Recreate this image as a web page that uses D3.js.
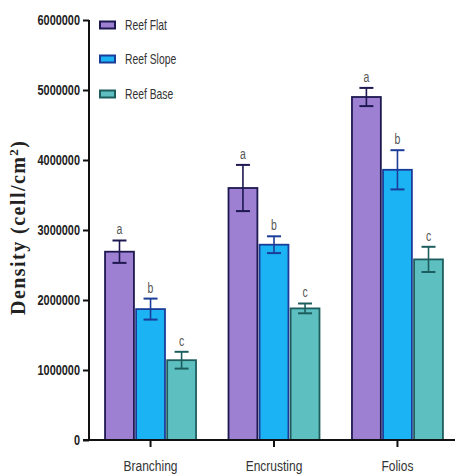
<!DOCTYPE html>
<html>
<head>
<meta charset="utf-8">
<script src="https://cdn.jsdelivr.net/npm/d3@7"></script>
<style>
  html, body { margin: 0; padding: 0; background: #fff; }
  svg { display: block; }
  .sans { font-family: "Liberation Sans", Arial, sans-serif; }
</style>
</head>
<body>
<svg id="chart" width="455" height="475"></svg>
<script>
// Coral growth forms and reef zones
const categories = ["Branching", "Encrusting", "Folios"];
const zones = ["Reef Flat", "Reef Slope", "Reef Base"];

// Mean density (cell/cm²) per zone, one array per zone in category order
const reefFlat  = [2690000, 3600000, 4900000];
const reefSlope = [1870000, 2790000, 3860000];
const reefBase  = [1140000, 1880000, 2580000];

// Error (± SEM) per zone
const reefFlatErr  = [160000, 330000, 130000];
const reefSlopeErr = [150000, 120000, 280000];
const reefBaseErr  = [120000, 70000, 180000];

// Significance letters
const reefFlatSig  = ["a", "a", "a"];
const reefSlopeSig = ["b", "b", "b"];
const reefBaseSig  = ["c", "c", "c"];

const yTicks = [0, 1000000, 2000000, 3000000, 4000000, 5000000, 6000000];

const fills   = ["#9e80d2", "#1bb3f3", "#5dbfc0"];
const strokes = ["#1d1850", "#1b3c98", "#1e5d5e"];

const series = zones.map((z, i) => ({
  zone: z,
  values: [reefFlat, reefSlope, reefBase][i],
  errs: [reefFlatErr, reefSlopeErr, reefBaseErr][i],
  sig: [reefFlatSig, reefSlopeSig, reefBaseSig][i],
  fill: fills[i],
  stroke: strokes[i]
}));

// Squeeze text horizontally around its own anchor point
function condense(sel, k) {
  sel.each(function() {
    const t = d3.select(this);
    const x = +t.attr("x") || 0;
    t.attr("x", x / k).attr("transform", `scale(${k},1)`);
  });
}

const svg = d3.select("#chart");

const y = d3.scaleLinear().domain([0, 6000000]).range([440, 20]);
const x0 = d3.scaleBand().domain(categories).range([89, 459]).paddingInner(0.263).paddingOuter(0.13);
const x1 = d3.scaleBand().domain(zones).range([0, x0.bandwidth()]).paddingInner(0.07);

// Bars, error bars and letters
const groups = svg.append("g").selectAll("g")
  .data(categories)
  .join("g")
  .attr("transform", d => `translate(${x0(d)},0)`);

groups.each(function(cat, ci) {
  const g = d3.select(this);
  series.forEach(s => {
    const v = s.values[ci], e = s.errs[ci];
    const bx = x1(s.zone), bw = x1.bandwidth();
    const cx = bx + bw / 2;
    g.append("rect")
      .attr("x", bx)
      .attr("y", y(v))
      .attr("width", bw)
      .attr("height", y(0) - y(v))
      .attr("fill", s.fill)
      .attr("stroke", s.stroke)
      .attr("stroke-width", 1.8);
    // error bar
    g.append("line")
      .attr("x1", cx).attr("x2", cx)
      .attr("y1", y(v - e)).attr("y2", y(v + e))
      .attr("stroke", s.stroke).attr("stroke-width", 1.6);
    [v + e, v - e].forEach(t => {
      g.append("line")
        .attr("x1", cx - 7).attr("x2", cx + 7)
        .attr("y1", y(t)).attr("y2", y(t))
        .attr("stroke", s.stroke).attr("stroke-width", 2);
    });
    g.append("text")
      .attr("class", "sans sig")
      .attr("x", cx)
      .attr("y", y(v + e) - 6)
      .attr("text-anchor", "middle")
      .attr("font-size", 14)
      .attr("fill", "#555")
      .text(s.sig[ci]);
  });
});
condense(svg.selectAll("text.sig"), 0.75);

// Y axis
const yAxis = svg.append("g")
  .attr("transform", "translate(89,0)")
  .call(d3.axisLeft(y).tickValues(yTicks).tickFormat(d3.format("d")).tickSize(6).tickPadding(3));
yAxis.select(".domain").attr("stroke", "#111").attr("stroke-width", 2).attr("d", `M0,${y(6000000)}V${y(0)}`);
yAxis.selectAll(".tick line").attr("stroke", "#111").attr("stroke-width", 2);
yAxis.selectAll(".tick text")
  .attr("class", "sans")
  .attr("font-size", 14)
  .attr("font-weight", "bold")
  .attr("fill", "#222")
  .call(condense, 0.78);

// X axis
const xAxis = svg.append("g")
  .attr("transform", `translate(0,${y(0)})`)
  .call(d3.axisBottom(x0).tickSize(7).tickPadding(13).tickSizeOuter(0));
xAxis.select(".domain").attr("stroke", "#111").attr("stroke-width", 2.2).attr("d", "M83,0H455");
xAxis.selectAll(".tick line").attr("stroke", "#111").attr("stroke-width", 2);
xAxis.selectAll(".tick text")
  .attr("class", "sans")
  .attr("font-size", 15)
  .attr("fill", "#333")
  .call(condense, 0.8);

// Y axis title
svg.append("text")
  .attr("transform", "translate(25,228) rotate(-90)")
  .attr("text-anchor", "middle")
  .attr("font-family", "'Liberation Serif', 'Times New Roman', serif")
  .attr("font-weight", "bold")
  .attr("font-size", 20)
  .attr("fill", "#222")
  .attr("textLength", 174)
  .attr("lengthAdjust", "spacing")
  .html("Density (cell/cm<tspan baseline-shift='super' font-size='13'>2</tspan>)");

// Legend
const legendY = [25, 59, 94];
const legend = svg.append("g");
series.forEach((s, i) => {
  legend.append("rect")
    .attr("x", 100).attr("y", legendY[i] - 3.5)
    .attr("width", 15).attr("height", 7)
    .attr("fill", s.fill)
    .attr("stroke", s.stroke)
    .attr("stroke-width", 2);
  legend.append("text")
    .attr("class", "sans legend-label")
    .attr("x", 125).attr("y", legendY[i] + 5)
    .attr("font-size", 14)
    .attr("fill", "#333")
    .text(s.zone);
});
condense(legend.selectAll("text.legend-label"), 0.74);
</script>
</body>
</html>
